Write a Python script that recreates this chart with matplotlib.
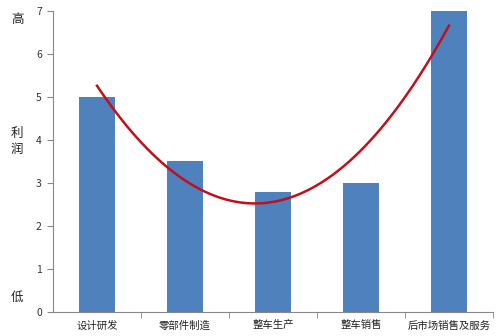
import numpy as np
import matplotlib
matplotlib.use('Agg')
import matplotlib.pyplot as plt
from matplotlib.ticker import FixedLocator

plt.rcParams['font.family'] = ['Noto Sans CJK SC', 'DejaVu Sans']

categories = ['设计研发', '零部件制造', '整车生产', '整车销售', '后市场销售及服务']
profit = [5.0, 3.5, 2.8, 3.0, 7.0]
y_ticks = [0, 1, 2, 3, 4, 5, 6, 7]

fig = plt.figure(figsize=(5, 3.36), dpi=100)
ax = fig.add_axes([0.106, 0.0714, 0.88, 0.896])

x = np.arange(len(categories))
ax.bar(x, profit, width=0.41, color='#4F81BD', zorder=2)

# quadratic trend line, like the spreadsheet trendline
coef = np.polyfit(x, profit, 2)
xs = np.linspace(x[0], x[-1], 200)
ax.plot(xs, np.polyval(coef, xs), color='#C0101A', linewidth=1.8, zorder=3)

ax.set_xlim(-0.5, len(categories) - 0.5)
ax.set_ylim(0, 7)
ax.set_yticks(y_ticks)
ax.set_xticks(x)
ax.set_xticklabels(categories, fontsize=7.5, color='#222222')
ax.xaxis.set_minor_locator(FixedLocator(np.arange(0.5, len(categories), 1)))
ax.tick_params(axis='x', which='major', length=0, pad=6)
ax.tick_params(axis='x', which='minor', length=4, color='#888888')
ax.tick_params(axis='y', length=4, color='#888888', labelsize=7.5, labelcolor='#333333', pad=4)

for s in ['top', 'right']:
    ax.spines[s].set_visible(False)
ax.spines['left'].set_color('#888888')
ax.spines['bottom'].set_color('#888888')

# side labels: high / profit / low
fig.text(17 / 500, 1 - 20 / 336, '高', fontsize=9, ha='center', va='center', color='#222222')
fig.text(17 / 500, 1 - 133 / 336, '利', fontsize=9, ha='center', va='center', color='#222222')
fig.text(17 / 500, 1 - 150 / 336, '润', fontsize=9, ha='center', va='center', color='#222222')
fig.text(17 / 500, 1 - 297 / 336, '低', fontsize=9, ha='center', va='center', color='#222222')

fig.savefig('out.png', dpi=100)
